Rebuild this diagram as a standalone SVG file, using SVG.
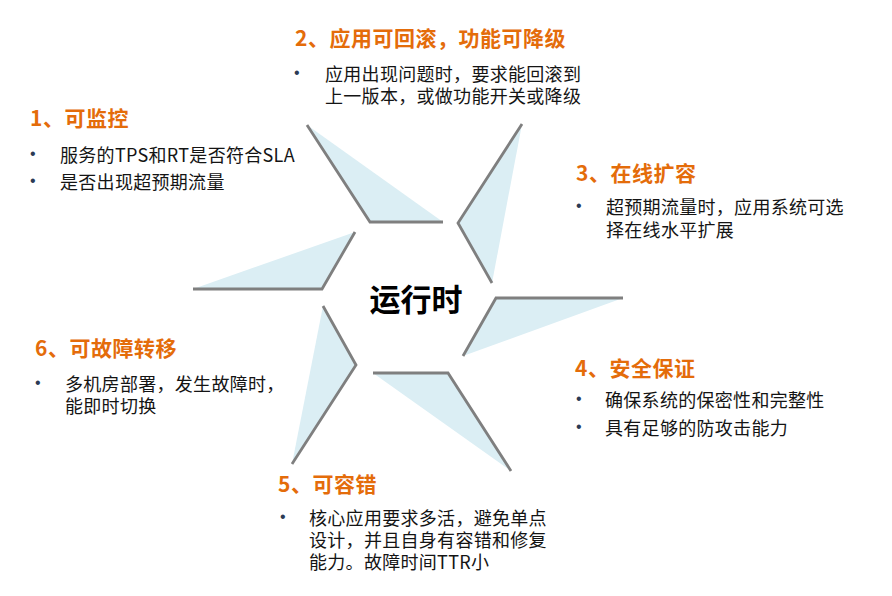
<svg xmlns="http://www.w3.org/2000/svg" width="892" height="596" viewBox="0 0 892 596">
<style>
text{font-family:"Noto Sans CJK SC","Noto Sans",sans-serif;}
.t{font-size:21px;font-weight:700;fill:#E46C0A;letter-spacing:0.5px;}
.b{font-size:18px;fill:#141414;letter-spacing:0.3px;}
.d{font-size:16px;fill:#2B3A55;font-family:"Liberation Sans",sans-serif;}
.c{font-size:31px;font-weight:700;fill:#000;}
.bf{fill:#DBEEF4;stroke:none;}
.bl{fill:none;stroke:#7F7F7F;stroke-width:2.8;stroke-linejoin:miter;}
</style>
<rect width="892" height="596" fill="#FFFFFF"/>
<g id="connectors">
<g id="blade1"><polygon class="bf" points="307,125 370,222 443,222"/><polyline class="bl" points="307,125 370,222 443,222"/></g>
<g id="blade2"><polygon class="bf" points="522,124 458,223 492,283"/><polyline class="bl" points="522,124 458,223 492,283"/></g>
<g id="blade3"><polygon class="bf" points="623,298 496,298 463,356"/><polyline class="bl" points="623,298 496,298 463,356"/></g>
<g id="blade4"><polygon class="bf" points="373,373 448,373 511,471"/><polyline class="bl" points="373,373 448,373 511,471"/></g>
<g id="blade5"><polygon class="bf" points="323,306 356,365 292,464"/><polyline class="bl" points="323,306 356,365 292,464"/></g>
<g id="blade6"><polygon class="bf" points="355,232 322,289 193,289"/><polyline class="bl" points="355,232 322,289 193,289"/></g>
</g>
<g id="center"><text class="c" x="416" y="311" text-anchor="middle">运行时</text></g>
<g id="node1">
<text class="t" x="30" y="126">1、可监控</text>
<text class="d" x="30" y="159">•</text>
<text class="b" x="60" y="162">服务的TPS和RT是否符合SLA</text>
<text class="d" x="30" y="186">•</text>
<text class="b" x="60" y="189">是否出现超预期流量</text>
</g>
<g id="node2">
<text class="t" x="295" y="46">2、应用可回滚，功能可降级</text>
<text class="d" x="294" y="78">•</text>
<text class="b" x="325" y="81">应用出现问题时，要求能回滚到</text>
<text class="b" x="325" y="103">上一版本，或做功能开关或降级</text>
</g>
<g id="node3">
<text class="t" x="576" y="181">3、在线扩容</text>
<text class="d" x="576" y="211">•</text>
<text class="b" x="606" y="214">超预期流量时，应用系统可选</text>
<text class="b" x="606" y="237">择在线水平扩展</text>
</g>
<g id="node4">
<text class="t" x="575" y="376">4、安全保证</text>
<text class="d" x="576" y="404">•</text>
<text class="b" x="605" y="407">确保系统的保密性和完整性</text>
<text class="d" x="576" y="432">•</text>
<text class="b" x="605" y="435">具有足够的防攻击能力</text>
</g>
<g id="node5">
<text class="t" x="278" y="492">5、可容错</text>
<text class="d" x="280" y="522">•</text>
<text class="b" x="309" y="525">核心应用要求多活，避免单点</text>
<text class="b" x="309" y="547">设计，并且自身有容错和修复</text>
<text class="b" x="309" y="569">能力。故障时间TTR小</text>
</g>
<g id="node6">
<text class="t" x="35" y="356">6、可故障转移</text>
<text class="d" x="35" y="388">•</text>
<text class="b" x="65" y="391">多机房部署，发生故障时，</text>
<text class="b" x="65" y="413">能即时切换</text>
</g>
</svg>
